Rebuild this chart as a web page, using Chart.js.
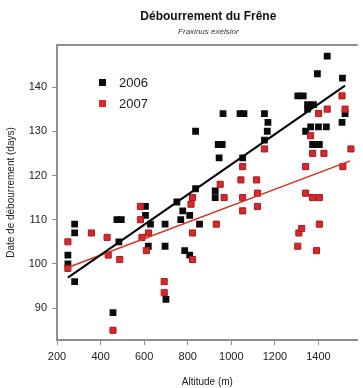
<!DOCTYPE html>
<html>
<head>
<meta charset="utf-8">
<script src="https://cdn.jsdelivr.net/npm/chart.js@4/dist/chart.umd.min.js"></script>
<style>
html,body{margin:0;padding:0;background:#fff;}
#wrap{width:363px;height:388px;}
</style>
</head>
<body>
<div id="wrap"><canvas id="c" width="363" height="388"></canvas></div>
<script>
// ---- data ----
const titleText = "Débourrement du Frêne";
const subtitleText = "Fraxinus exelsior";
const xTitle = "Altitude (m)";
const yTitle = "Date de débourrement (days)";
const seriesNames = ["2006", "2007"];

const alt2006 = [250,250,281,281,281,457,475,495,484,606,606,629,619,696,696,700,750,777,809,768,854,786,809,836,836,926,926,962,940,958,944,1040,1058,1052,1152,1168,1165,1152,1305,1330,1350,1377,1350,1395,1440,1510,1522,1508,1341,1364,1400,1436,1373,1404];
const days2006 = [102,100,109,107,96,89,110,110,105,113,111,109,104,109,104,92,114,112,111,110,109,103,102,117,130,116.5,115,134,127,127,124,134,134,124,134,132,130,128,138,138,136,136,135,143,147,142,134,132,130,131,131,131,127,127];

const alt2007 = [250,250,358,430,435,488,457,583,583,590,620,610,692,692,822,815,822,822,949,967,931,1044,1052,1052,1052,1116,1120,1120,1152,1305,1310,1323,1341,1373,1404,1404,1391,1341,1364,1373,1425,1400,1440,1508,1522,1549,1512];
const days2007 = [105,99,107,106,102,101,85,113,110,106,107,103,96,93.5,115,113.5,107,101,118,115,109,119,122,115,112,119,116,113,126,104,107,108,116,115,115,109,103,122,129,125,125,134,135,138,135,126,122];

// fitted trend lines (end points)
const fitAlt2006 = [250, 1522];
const fitDays2006 = [96.9, 140.3];
const fitAlt2007 = [250, 1545];
const fitDays2007 = [99.2, 123.3];

const xTicks = [200,400,600,800,1000,1200,1400];
const yTicks = [90,100,110,120,130,140];

// ---- styles ----
const FONT = '"Liberation Sans", Arial, Helvetica, sans-serif';
const AXIS = '#8e8e8e';
const BLACK = '#0b0b0b';
const RED = '#d9282b';
const RED_EDGE = '#a81a1c';

const pts = (xs, ys) => xs.map((x, i) => ({x: x, y: ys[i]}));

const decor = {
  id: 'decor',
  afterDraw(chart) {
    const {ctx, chartArea: a} = chart;
    ctx.save();
    ctx.strokeStyle = AXIS;
    ctx.lineWidth = 2;
    ctx.beginPath();
    ctx.moveTo(a.left - 1, a.top);
    ctx.lineTo(a.right, a.top);
    ctx.stroke();

    const cx = (a.left + a.right) / 2 + 1;
    ctx.fillStyle = '#111';
    ctx.textAlign = 'center';
    ctx.textBaseline = 'middle';
    ctx.font = 'bold 12px ' + FONT;
    ctx.fillText(titleText, cx, 17);
    ctx.font = 'italic 8px ' + FONT;
    ctx.fillStyle = '#333';
    ctx.fillText(subtitleText, cx, 32);

    // legend
    const lx = 102, ly = [82, 103];
    const cols = [BLACK, RED];
    ctx.font = '13px ' + FONT;
    ctx.textAlign = 'left';
    for (let i = 0; i < 2; i++) {
      ctx.fillStyle = cols[i];
      ctx.fillRect(lx - 3, ly[i] - 3, 7, 7);
      ctx.fillStyle = '#1a1a1a';
      ctx.fillText(seriesNames[i], 119, ly[i] + 1);
    }
    ctx.restore();
  }
};

new Chart(document.getElementById('c'), {
  type: 'scatter',
  data: {
    datasets: [
      {
        label: seriesNames[0],
        data: pts(alt2006, days2006),
        pointStyle: 'rect',
        pointRadius: 4.8,
        backgroundColor: BLACK,
        borderColor: BLACK,
        borderWidth: 0,
        order: 3
      },
      {
        label: seriesNames[1],
        data: pts(alt2007, days2007),
        pointStyle: 'rect',
        pointRadius: 4.3,
        backgroundColor: RED,
        borderColor: RED_EDGE,
        borderWidth: 1,
        order: 2
      },
      {
        type: 'line',
        label: 'fit 2006',
        data: pts(fitAlt2006, fitDays2006),
        borderColor: '#000',
        borderWidth: 2,
        pointRadius: 0,
        fill: false,
        order: 1
      },
      {
        type: 'line',
        label: 'fit 2007',
        data: pts(fitAlt2007, fitDays2007),
        borderColor: '#d2321f',
        borderWidth: 1.5,
        pointRadius: 0,
        fill: false,
        order: 1
      }
    ]
  },
  options: {
    responsive: false,
    animation: false,
    events: [],
    layout: {padding: {top: 45, right: 0, bottom: 0, left: 0}},
    plugins: {legend: {display: false}, title: {display: false}, tooltip: {enabled: false}},
    scales: {
      x: {
        type: 'linear',
        min: 200,
        max: 1580,
        afterBuildTicks: s => { s.ticks = xTicks.map(v => ({value: v})); },
        afterFit: s => { s.height = 48; },
        border: {display: true, color: AXIS, width: 2},
        grid: {drawOnChartArea: false, drawTicks: true, tickLength: 5, color: AXIS, tickColor: AXIS, tickWidth: 1},
        ticks: {padding: 5, color: '#222', font: {family: FONT, size: 11}, maxRotation: 0, callback: v => String(v)},
        title: {display: true, text: xTitle, color: '#222', font: {family: FONT, size: 10}, padding: {top: 0, bottom: 0}}
      },
      y: {
        type: 'linear',
        min: 82.8,
        max: 149.5,
        afterBuildTicks: s => { s.ticks = yTicks.map(v => ({value: v})); },
        afterFit: s => { s.width = 57; },
        border: {display: true, color: AXIS, width: 2},
        grid: {drawOnChartArea: false, drawTicks: true, tickLength: 5, color: AXIS, tickColor: AXIS, tickWidth: 1},
        ticks: {padding: 5, color: '#222', font: {family: FONT, size: 11}, callback: v => String(v)},
        title: {display: true, text: yTitle, color: '#222', font: {family: FONT, size: 10}, padding: {top: 5, bottom: 0}}
      }
    }
  },
  plugins: [decor]
});
</script>
</body>
</html>
